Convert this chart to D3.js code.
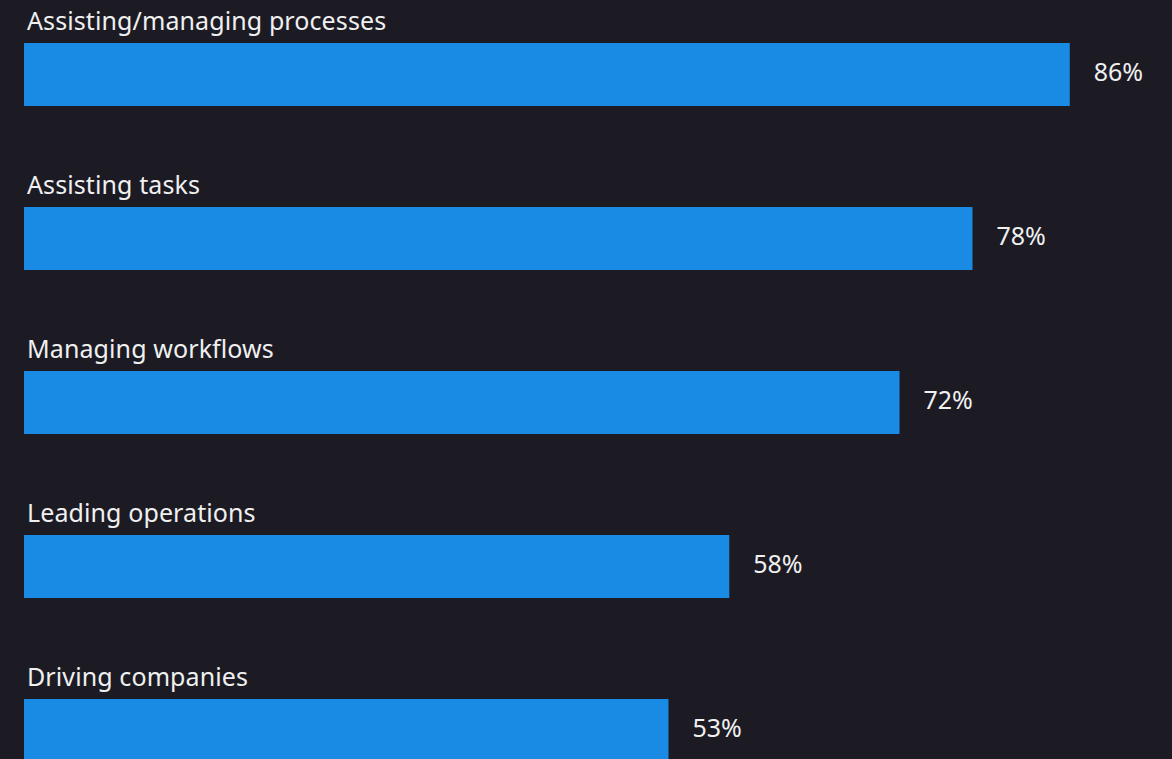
<!DOCTYPE html>
<html>
<head>
<meta charset="utf-8">
<script src="https://cdn.jsdelivr.net/npm/d3@7"></script>
<style>
    html, body { margin: 0; padding: 0; background: #1c1b24; }
    svg { display: block; }
</style>
</head>
<body>
<div id="chart"></div>
<script>
const categories = [
    "Assisting/managing processes",
    "Assisting tasks",
    "Managing workflows",
    "Leading operations",
    "Driving companies"
];
const values = [86, 78, 72, 58, 53];

const width = 1172;
const height = 759;

const svg = d3.select("#chart")
    .append("svg")
    .attr("width", width)
    .attr("height", height);

svg.append("rect")
    .attr("width", width)
    .attr("height", height)
    .attr("fill", "#1c1b24");

const x = d3.scaleLinear()
    .domain([0, 100])
    .range([24, 1240]);

const y = d3.scaleBand()
    .domain(categories)
    .range([43, 762])
    .paddingInner(101 / 164)
    .paddingOuter(0);

const rows = categories.map((c, i) => ({ name: c, value: values[i] }));

const g = svg.selectAll("g.row")
    .data(rows)
    .enter()
    .append("g")
    .attr("class", "row");

g.append("rect")
    .attr("x", x(0))
    .attr("y", d => y(d.name))
    .attr("width", d => x(d.value) - x(0))
    .attr("height", y.bandwidth())
    .attr("fill", "#1a8be4");

//category label
g.append("text")
    .attr("x", 27)
    .attr("y", d => y(d.name) - 13)
    .attr("fill", "#f0f0f0")
    .style("font-family", "'Noto Sans', sans-serif")
    .style("font-size", "25px")
    .style("letter-spacing", "0.1px")
    .text(d => d.name);

//value label
g.append("text")
    .attr("x", d => x(d.value) + 24)
    .attr("y", d => y(d.name) + y.bandwidth() / 2 + 6)
    .attr("fill", "#f0f0f0")
    .style("font-family", "'Noto Sans', sans-serif")
    .style("font-size", "25px")
    .text(d => d.value + "%");
</script>
</body>
</html>
